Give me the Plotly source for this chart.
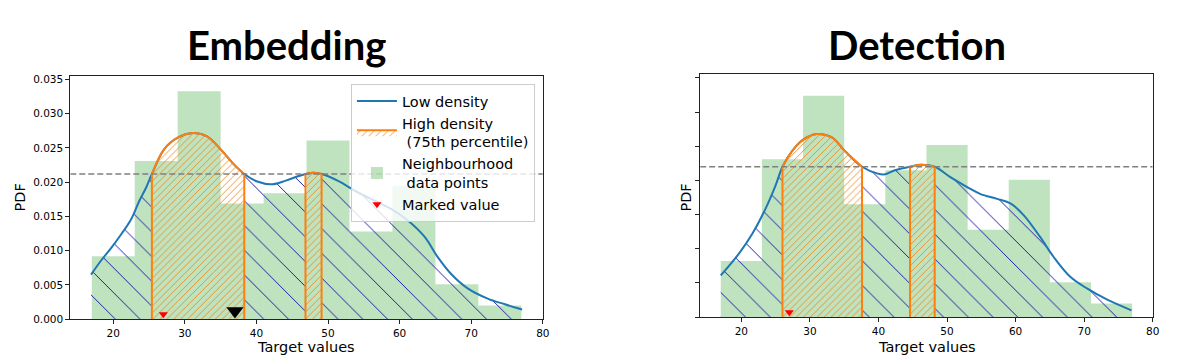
import plotly.graph_objects as go

# ---------------- data ----------------
bin_starts = [17, 23, 29, 35, 41, 47, 53, 59, 65, 71]
bin_width = 6
emb_hist = [0.0092, 0.0231, 0.0333, 0.0169, 0.0184, 0.0261, 0.0128, 0.0195, 0.0051, 0.0020]
det_hist = [0.0082, 0.0231, 0.0324, 0.0165, 0.0215, 0.0252, 0.0128, 0.0201, 0.0051, 0.0020]

emb_kde_x = [16.9, 18.33, 19.72, 21.11, 22.5, 23.65, 24.58, 25.4, 27.1, 29.0, 31.1, 33.1, 35.0,
             36.85, 38.3, 40.1, 42.2, 44.0, 45.9, 46.85, 47.9, 49.1, 51.4, 54.2, 58.8, 61.15,
             63.5, 65.3, 67.2, 69.5, 72.3, 74.6, 77.1]
emb_kde_y = [0.0065, 0.0086, 0.0104, 0.0124, 0.0146, 0.0173, 0.0192, 0.0212, 0.0248, 0.0265,
             0.0272, 0.0267, 0.0248, 0.0226, 0.0212, 0.0201, 0.0197, 0.0202, 0.0209, 0.0212,
             0.0214, 0.0212, 0.0202, 0.0185, 0.0161, 0.0144, 0.0120, 0.0091, 0.0066, 0.0045,
             0.0030, 0.0022, 0.0014]
emb_threshold = 0.0212
emb_high = [(25.4, 38.3), (46.85, 49.1)]

det_kde_x = [17.0, 19.65, 21.6, 23.5, 24.97, 26.0, 27.4, 29.07, 31.0, 33.2, 35.1, 37.6, 39.9,
             41.0, 42.4, 44.6, 46.2, 48.2, 50.6, 53.0, 54.9, 57.3, 59.3, 61.2, 63.6, 65.55,
             67.97, 70.4, 73.3, 76.9]
det_kde_y = [0.0061, 0.0093, 0.0122, 0.0158, 0.0192, 0.0220, 0.0243, 0.0260, 0.0268, 0.0263,
             0.0243, 0.0220, 0.0210, 0.0209, 0.0215, 0.0220, 0.0223, 0.0220, 0.0204, 0.0190,
             0.0180, 0.0173, 0.0166, 0.0149, 0.0117, 0.0088, 0.0059, 0.0042, 0.0026, 0.0010]
det_threshold = 0.0220
det_high = [(26.0, 37.6), (44.6, 48.2)]

emb_marked_x = [27]
emb_marked_y = [0.0007]
emb_embed_x = [37]
emb_embed_y = [0.0012]
det_marked_x = [27]
det_marked_y = [0.0007]

x_range = [14, 80]
x_ticks = [20, 30, 40, 50, 60, 70, 80]
y_ticks = [0.0, 0.005, 0.010, 0.015, 0.020, 0.025, 0.030, 0.035]

# ---------------- style ----------------
BLUE = "#1f77b4"
ORANGE = "#ff7f0e"
BAR_COL = "rgba(44,160,44,0.30)"
HATCH_BLUE = "rgb(25,25,165)"
FONT = "DejaVu Sans"

FIG_W, FIG_H = 1200, 360
V_TOP, V_SCALE = 75, 0.979   # vertical layout calibration


def fx(px):
    return px / FIG_W


def fy(py):
    py = V_TOP + (py - V_TOP) / V_SCALE
    return 1 - py / FIG_H


fig = go.Figure()


def sub(xs, ys, a, b):
    px = [x for x in xs if a <= x <= b]
    py = [y for x, y in zip(xs, ys) if a <= x <= b]
    return px, py


def add_panel(xa, ya, hist, kx, ky, thr, high, mk_x, mk_y, show_legend):
    fig.add_trace(go.Bar(x=bin_starts, y=hist, width=bin_width, offset=0,
                         marker=dict(color=BAR_COL, line=dict(width=0)),
                         name="Neighbourhood<br>\u00a0data points", legendrank=3,
                         showlegend=show_legend, xaxis=xa, yaxis=ya, hoverinfo="skip"))
    bounds = [kx[0]] + [v for h in high for v in h] + [kx[-1]]
    for i in range(0, len(bounds), 2):
        sx, sy = sub(kx, ky, bounds[i], bounds[i + 1])
        fig.add_trace(go.Scatter(x=sx, y=sy, mode="lines", line=dict(width=0, shape="spline"),
                                 fill="tozeroy", fillcolor="rgba(0,0,0,0)",
                                 fillpattern=dict(shape="\\", fgcolor=HATCH_BLUE, bgcolor="rgba(0,0,0,0)",
                                                  fgopacity=1, size=17.5, solidity=0.055),
                                 showlegend=False, xaxis=xa, yaxis=ya, hoverinfo="skip"))
    fig.add_trace(go.Scatter(x=kx, y=ky, mode="lines", line=dict(color=BLUE, width=2, shape="spline"),
                             name="Low density", legendrank=1, showlegend=show_legend,
                             xaxis=xa, yaxis=ya))
    for j, (a, b) in enumerate(high):
        sx, sy = sub(kx, ky, a, b)
        fig.add_trace(go.Scatter(x=sx, y=sy, mode="lines", line=dict(color=ORANGE, width=2, shape="spline"),
                                 fill="tozeroy", fillcolor="rgba(0,0,0,0)",
                                 fillpattern=dict(shape="/", fgcolor="#f08518", bgcolor="rgba(0,0,0,0)",
                                                  fgopacity=0.9, size=4.9, solidity=0.19),
                                 name="High density<br>\u00a0(75th percentile)", legendrank=2,
                                 legendgroup="hd" + xa,
                                 showlegend=(show_legend and j == 0), xaxis=xa, yaxis=ya))
        fig.add_trace(go.Scatter(x=[sx[0], sx[0], None, sx[-1], sx[-1]],
                                 y=[0, sy[0], None, 0, sy[-1]], mode="lines",
                                 line=dict(color=ORANGE, width=2), showlegend=False,
                                 xaxis=xa, yaxis=ya, hoverinfo="skip"))
    fig.add_trace(go.Scatter(x=x_range, y=[thr, thr], mode="lines",
                             line=dict(color="rgb(128,128,128)", width=1.5, dash="6px,3px"),
                             showlegend=False, xaxis=xa, yaxis=ya, hoverinfo="skip"))
    fig.add_trace(go.Scatter(x=mk_x, y=mk_y, mode="markers",
                             marker=dict(symbol="triangle-down", color="red", size=8),
                             name="Marked value", legendrank=4, showlegend=show_legend,
                             xaxis=xa, yaxis=ya, cliponaxis=False))


add_panel("x", "y", emb_hist, emb_kde_x, emb_kde_y, emb_threshold, emb_high,
          emb_marked_x, emb_marked_y, True)
fig.add_trace(go.Scatter(x=emb_embed_x, y=emb_embed_y, mode="markers",
                         marker=dict(symbol="triangle-down", color="black", size=15),
                         showlegend=False, xaxis="x", yaxis="y", cliponaxis=False))
add_panel("x2", "y2", det_hist, det_kde_x, det_kde_y, det_threshold, det_high,
          det_marked_x, det_marked_y, False)

axis_common = dict(showline=True, mirror=True, linecolor="#222", linewidth=1, ticks="outside",
                   ticklen=4, tickcolor="#222", showgrid=False, zeroline=False,
                   tickfont=dict(family=FONT, size=10.5, color="black"))

title_font = dict(family="Lato", size=40, color="black")
lab_font = dict(family=FONT, size=14.5, color="black")

fig.update_layout(
    width=FIG_W, height=FIG_H, margin=dict(l=0, r=0, t=0, b=0),
    paper_bgcolor="white", plot_bgcolor="white", barmode="overlay",
    font=dict(family=FONT, color="black"),
    xaxis=dict(domain=[fx(70.7), fx(546)], range=x_range, tickvals=x_ticks, anchor="y", **axis_common),
    yaxis=dict(domain=[fy(319), fy(75)], range=[0, 0.0355], tickvals=y_ticks, tickformat=".3f",
               anchor="x", **axis_common),
    xaxis2=dict(domain=[fx(704.3), fx(1159.5)], range=x_range, tickvals=x_ticks, anchor="y2", **axis_common),
    yaxis2=dict(domain=[fy(317), fy(72.7)], range=[0, 0.0356], tickvals=y_ticks, showticklabels=False,
                anchor="x2", **axis_common),
    legend=dict(x=fx(353), y=fy(83), xanchor="left", yanchor="top", bgcolor="rgba(255,255,255,0.8)",
                bordercolor="#cccccc", borderwidth=1, font=dict(family=FONT, size=14.5),
                tracegroupgap=0, itemwidth=40),
    showlegend=True,
    annotations=[
        dict(text="<b>Embedding</b>", x=fx(288.5), y=fy(44), xref="paper", yref="paper",
             showarrow=False, font=title_font, xanchor="center", yanchor="middle"),
        dict(text="<b>Detection</b>", x=fx(922), y=fy(44), xref="paper", yref="paper",
             showarrow=False, font=title_font, xanchor="center", yanchor="middle"),
        dict(text="PDF", x=fx(20), y=fy(197), xref="paper", yref="paper", textangle=-90,
             showarrow=False, font=lab_font, xanchor="center", yanchor="middle"),
        dict(text="PDF", x=fx(690), y=fy(197), xref="paper", yref="paper", textangle=-90,
             showarrow=False, font=lab_font, xanchor="center", yanchor="middle"),
        dict(text="Target values", x=fx(308), y=fy(347), xref="paper", yref="paper",
             showarrow=False, font=lab_font, xanchor="center", yanchor="middle"),
        dict(text="Target values", x=fx(932), y=fy(347), xref="paper", yref="paper",
             showarrow=False, font=lab_font, xanchor="center", yanchor="middle"),
    ],
)

fig.write_html("out.html", config={"displayModeBar": False},
               post_script="document.body.style.margin='0';document.body.style.overflow='hidden';")
